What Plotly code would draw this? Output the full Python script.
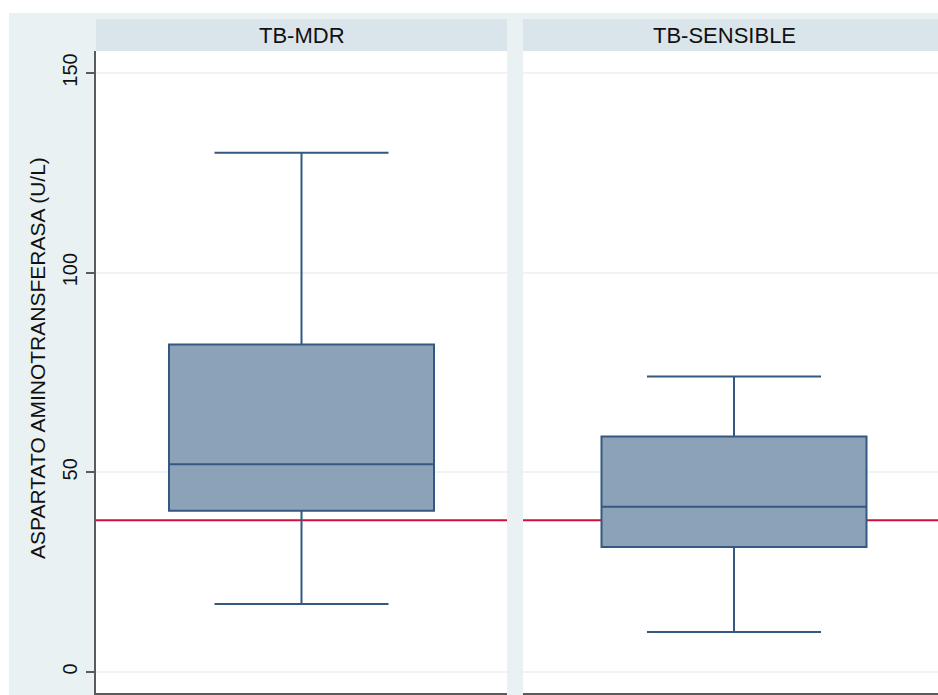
import plotly.graph_objects as go

# Box-plot summaries of AST (U/L) by TB group
groups = ["TB-MDR", "TB-SENSIBLE"]
lower_whisker = [17, 10]
q1_values = [40.4, 31.3]
medians = [52, 41.4]
q3_values = [82, 59]
upper_whisker = [130, 74]
reference_value = 38

y_ticks = [0, 50, 100, 150]
y_title = "ASPARTATO AMINOTRANSFERASA (U/L)"

W, H = 938, 695
BG_OUTER = "#EAF1F3"
BG_HEADER = "#D9E5EB"
BOX_FILL = "#8CA2B8"
BOX_LINE = "#34587F"
AXIS_COLOR = "#5A5A5A"
GRID_COLOR = "#EEF3F5"
REF_COLOR = "#D0103A"
FONT = "Liberation Sans, Arial, sans-serif"


def px_x(p):
    return p / W


def px_y(p):
    return 1 - p / H


panels = [(96, 507), (523, W)]
centers = [301.5, 734]
plot_top, plot_bottom = 51, 693
header_top = 19
px_per_unit = 411.0

fig = go.Figure()

for i, g in enumerate(groups):
    axis_suffix = "" if i == 0 else str(i + 1)
    fig.add_trace(go.Box(
        x=[g],
        q1=[q1_values[i]],
        median=[medians[i]],
        q3=[q3_values[i]],
        lowerfence=[lower_whisker[i]],
        upperfence=[upper_whisker[i]],
        width=265 / px_per_unit,
        whiskerwidth=174 / 265,
        fillcolor=BOX_FILL,
        line=dict(color=BOX_LINE, width=2),
        boxpoints=False,
        showlegend=False,
        hoverinfo="skip",
        xaxis="x" + axis_suffix,
        yaxis="y" + axis_suffix,
    ))

# y range chosen so the ticks sit at their pixel rows
unit = (672 - 73) / 150.0
y_range = [(672 - plot_bottom) / unit, (672 - plot_top) / unit]

shapes = [
    # outer graph region
    dict(type="rect", xref="paper", yref="paper", x0=px_x(9), x1=1, y0=0, y1=px_y(13),
         fillcolor=BG_OUTER, line=dict(width=0), layer="below"),
]
annotations = []

for i, (a, b) in enumerate(panels):
    axis_suffix = "" if i == 0 else str(i + 1)
    c = centers[i]
    x_lo = -(c - a) / px_per_unit
    x_hi = (b - c) / px_per_unit
    fig.layout["xaxis" + axis_suffix] = dict(
        domain=[px_x(a), px_x(b)],
        range=[x_lo, x_hi],
        showticklabels=False,
        ticks="",
        showgrid=False,
        zeroline=False,
        showline=True,
        linecolor=AXIS_COLOR,
        linewidth=2,
        anchor="y" + axis_suffix,
        fixedrange=True,
    )
    fig.layout["yaxis" + axis_suffix] = dict(
        domain=[px_y(plot_bottom), px_y(plot_top)],
        range=y_range,
        tickvals=y_ticks,
        ticktext=[str(v) for v in y_ticks],
        showticklabels=(i == 0),
        ticks="outside" if i == 0 else "",
        ticklen=8,
        tickwidth=1.5,
        tickcolor=AXIS_COLOR,
        tickangle=-90,
        ticklabelstandoff=1,
        tickfont=dict(family=FONT, size=20, color="#111111"),
        showgrid=True,
        gridcolor=GRID_COLOR,
        gridwidth=1.5,
        zeroline=False,
        showline=(i == 0),
        linecolor=AXIS_COLOR,
        linewidth=2,
        anchor="x" + axis_suffix,
        fixedrange=True,
    )
    # white plot area of the panel
    shapes.append(dict(type="rect", xref="paper", yref="paper",
                       x0=px_x(a), x1=px_x(b), y0=px_y(plot_bottom), y1=px_y(plot_top),
                       fillcolor="white", line=dict(width=0), layer="below"))
    # panel header strip
    shapes.append(dict(type="rect", xref="paper", yref="paper",
                       x0=px_x(a), x1=px_x(b), y0=px_y(plot_top), y1=px_y(header_top),
                       fillcolor=BG_HEADER, line=dict(width=0), layer="below"))
    # reference line
    shapes.append(dict(type="line", xref="x" + axis_suffix + " domain", yref="y" + axis_suffix,
                       x0=0, x1=1, y0=reference_value, y1=reference_value,
                       line=dict(color=REF_COLOR, width=2), layer="below"))

header_centers = [301.5, 724]
for i, g in enumerate(groups):
    annotations.append(dict(
        text=g, xref="paper", yref="paper",
        x=px_x(header_centers[i]), y=px_y((header_top + plot_top) / 2),
        xanchor="center", yanchor="middle", showarrow=False,
        font=dict(family=FONT, size=22, color="#111111"),
    ))

annotations.append(dict(
    text=y_title, xref="paper", yref="paper",
    x=px_x(37), y=px_y(358), xanchor="center", yanchor="middle",
    textangle=-90, showarrow=False,
    font=dict(family=FONT, size=21, color="#111111"),
))

fig.update_layout(
    width=W, height=H,
    margin=dict(l=0, r=0, t=0, b=0),
    paper_bgcolor="white",
    plot_bgcolor="white",
    shapes=shapes,
    annotations=annotations,
    showlegend=False,
)

fig.write_html("out.html")
